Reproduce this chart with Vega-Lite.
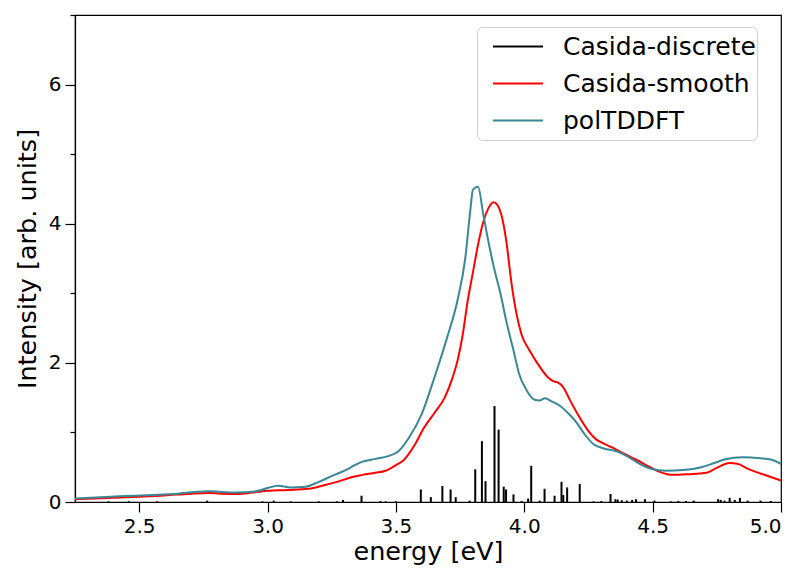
{
  "$schema": "https://vega.github.io/schema/vega-lite/v6.json",
  "width": 706,
  "height": 487,
  "autosize": {"type": "none"},
  "padding": {"left": 75, "top": 15, "right": 19, "bottom": 71},
  "background": "white",
  "config": {
    "font": "DejaVu Sans",
    "view": {"stroke": "black", "strokeWidth": 1.2},
    "axis": {
      "domainColor": "black", "domainWidth": 1.2, "tickColor": "black", "tickWidth": 1.2,
      "grid": false, "labelColor": "black", "titleColor": "black",
      "labelFont": "DejaVu Sans", "titleFont": "DejaVu Sans",
      "labelFontSize": 20, "titleFontSize": 25.5, "titleFontWeight": "normal",
      "tickSize": 10, "labelPadding": 4
    }
  },
  "datasets": {
    "sticks": [
      {"series": "Casida-discrete", "energy": 2.38, "intensity": 0.01},
      {"series": "Casida-discrete", "energy": 2.46, "intensity": 0.01},
      {"series": "Casida-discrete", "energy": 2.57, "intensity": 0.01},
      {"series": "Casida-discrete", "energy": 2.765, "intensity": 0.02},
      {"series": "Casida-discrete", "energy": 2.98, "intensity": 0.01},
      {"series": "Casida-discrete", "energy": 3.024, "intensity": 0.02},
      {"series": "Casida-discrete", "energy": 3.09, "intensity": 0.01},
      {"series": "Casida-discrete", "energy": 3.2, "intensity": 0.01},
      {"series": "Casida-discrete", "energy": 3.27, "intensity": 0.01},
      {"series": "Casida-discrete", "energy": 3.294, "intensity": 0.03},
      {"series": "Casida-discrete", "energy": 3.366, "intensity": 0.09},
      {"series": "Casida-discrete", "energy": 3.44, "intensity": 0.015},
      {"series": "Casida-discrete", "energy": 3.46, "intensity": 0.01},
      {"series": "Casida-discrete", "energy": 3.5, "intensity": 0.01},
      {"series": "Casida-discrete", "energy": 3.597, "intensity": 0.18},
      {"series": "Casida-discrete", "energy": 3.636, "intensity": 0.07},
      {"series": "Casida-discrete", "energy": 3.681, "intensity": 0.23},
      {"series": "Casida-discrete", "energy": 3.713, "intensity": 0.18},
      {"series": "Casida-discrete", "energy": 3.733, "intensity": 0.07},
      {"series": "Casida-discrete", "energy": 3.787, "intensity": 0.02},
      {"series": "Casida-discrete", "energy": 3.809, "intensity": 0.47},
      {"series": "Casida-discrete", "energy": 3.835, "intensity": 0.875},
      {"series": "Casida-discrete", "energy": 3.849, "intensity": 0.30},
      {"series": "Casida-discrete", "energy": 3.884, "intensity": 1.38},
      {"series": "Casida-discrete", "energy": 3.9, "intensity": 1.04},
      {"series": "Casida-discrete", "energy": 3.92, "intensity": 0.22},
      {"series": "Casida-discrete", "energy": 3.929, "intensity": 0.18},
      {"series": "Casida-discrete", "energy": 3.958, "intensity": 0.11},
      {"series": "Casida-discrete", "energy": 3.99, "intensity": 0.015},
      {"series": "Casida-discrete", "energy": 4.015, "intensity": 0.05},
      {"series": "Casida-discrete", "energy": 4.027, "intensity": 0.52},
      {"series": "Casida-discrete", "energy": 4.06, "intensity": 0.02},
      {"series": "Casida-discrete", "energy": 4.079, "intensity": 0.19},
      {"series": "Casida-discrete", "energy": 4.118, "intensity": 0.09},
      {"series": "Casida-discrete", "energy": 4.145, "intensity": 0.29},
      {"series": "Casida-discrete", "energy": 4.152, "intensity": 0.1},
      {"series": "Casida-discrete", "energy": 4.167, "intensity": 0.21},
      {"series": "Casida-discrete", "energy": 4.216, "intensity": 0.26},
      {"series": "Casida-discrete", "energy": 4.27, "intensity": 0.01},
      {"series": "Casida-discrete", "energy": 4.3, "intensity": 0.015},
      {"series": "Casida-discrete", "energy": 4.336, "intensity": 0.115},
      {"series": "Casida-discrete", "energy": 4.355, "intensity": 0.04},
      {"series": "Casida-discrete", "energy": 4.364, "intensity": 0.035},
      {"series": "Casida-discrete", "energy": 4.38, "intensity": 0.025},
      {"series": "Casida-discrete", "energy": 4.40, "intensity": 0.02},
      {"series": "Casida-discrete", "energy": 4.42, "intensity": 0.03},
      {"series": "Casida-discrete", "energy": 4.435, "intensity": 0.04},
      {"series": "Casida-discrete", "energy": 4.47, "intensity": 0.04},
      {"series": "Casida-discrete", "energy": 4.507, "intensity": 0.02},
      {"series": "Casida-discrete", "energy": 4.57, "intensity": 0.01},
      {"series": "Casida-discrete", "energy": 4.6, "intensity": 0.015},
      {"series": "Casida-discrete", "energy": 4.63, "intensity": 0.015},
      {"series": "Casida-discrete", "energy": 4.66, "intensity": 0.02},
      {"series": "Casida-discrete", "energy": 4.755, "intensity": 0.04},
      {"series": "Casida-discrete", "energy": 4.765, "intensity": 0.03},
      {"series": "Casida-discrete", "energy": 4.78, "intensity": 0.02},
      {"series": "Casida-discrete", "energy": 4.80, "intensity": 0.06},
      {"series": "Casida-discrete", "energy": 4.82, "intensity": 0.03},
      {"series": "Casida-discrete", "energy": 4.84, "intensity": 0.06},
      {"series": "Casida-discrete", "energy": 4.87, "intensity": 0.02},
      {"series": "Casida-discrete", "energy": 4.92, "intensity": 0.02},
      {"series": "Casida-discrete", "energy": 4.96, "intensity": 0.015}
    ],
    "curves": [
      {"series": "Casida-smooth", "energy": 2.25, "intensity": 0.04},
      {"series": "Casida-smooth", "energy": 2.4, "intensity": 0.06},
      {"series": "Casida-smooth", "energy": 2.5, "intensity": 0.075},
      {"series": "Casida-smooth", "energy": 2.6, "intensity": 0.095},
      {"series": "Casida-smooth", "energy": 2.7, "intensity": 0.12},
      {"series": "Casida-smooth", "energy": 2.77, "intensity": 0.13},
      {"series": "Casida-smooth", "energy": 2.82, "intensity": 0.12},
      {"series": "Casida-smooth", "energy": 2.88, "intensity": 0.115},
      {"series": "Casida-smooth", "energy": 2.95, "intensity": 0.14},
      {"series": "Casida-smooth", "energy": 3.0, "intensity": 0.16},
      {"series": "Casida-smooth", "energy": 3.08, "intensity": 0.172},
      {"series": "Casida-smooth", "energy": 3.16, "intensity": 0.19},
      {"series": "Casida-smooth", "energy": 3.22, "intensity": 0.24},
      {"series": "Casida-smooth", "energy": 3.28, "intensity": 0.3},
      {"series": "Casida-smooth", "energy": 3.33, "intensity": 0.36},
      {"series": "Casida-smooth", "energy": 3.37, "intensity": 0.39},
      {"series": "Casida-smooth", "energy": 3.42, "intensity": 0.42},
      {"series": "Casida-smooth", "energy": 3.46, "intensity": 0.45},
      {"series": "Casida-smooth", "energy": 3.50, "intensity": 0.53},
      {"series": "Casida-smooth", "energy": 3.53, "intensity": 0.6},
      {"series": "Casida-smooth", "energy": 3.57, "intensity": 0.8},
      {"series": "Casida-smooth", "energy": 3.61, "intensity": 1.07},
      {"series": "Casida-smooth", "energy": 3.65, "intensity": 1.28},
      {"series": "Casida-smooth", "energy": 3.69, "intensity": 1.5},
      {"series": "Casida-smooth", "energy": 3.72, "intensity": 1.78},
      {"series": "Casida-smooth", "energy": 3.74, "intensity": 2.03},
      {"series": "Casida-smooth", "energy": 3.76, "intensity": 2.4},
      {"series": "Casida-smooth", "energy": 3.78, "intensity": 2.9},
      {"series": "Casida-smooth", "energy": 3.80, "intensity": 3.3},
      {"series": "Casida-smooth", "energy": 3.82, "intensity": 3.7},
      {"series": "Casida-smooth", "energy": 3.84, "intensity": 4.02},
      {"series": "Casida-smooth", "energy": 3.86, "intensity": 4.22},
      {"series": "Casida-smooth", "energy": 3.88, "intensity": 4.31},
      {"series": "Casida-smooth", "energy": 3.895, "intensity": 4.27},
      {"series": "Casida-smooth", "energy": 3.91, "intensity": 4.14},
      {"series": "Casida-smooth", "energy": 3.93, "intensity": 3.75},
      {"series": "Casida-smooth", "energy": 3.95, "intensity": 3.15},
      {"series": "Casida-smooth", "energy": 3.97, "intensity": 2.7},
      {"series": "Casida-smooth", "energy": 3.99, "intensity": 2.4},
      {"series": "Casida-smooth", "energy": 4.02, "intensity": 2.18},
      {"series": "Casida-smooth", "energy": 4.05, "intensity": 2.0},
      {"series": "Casida-smooth", "energy": 4.09, "intensity": 1.8},
      {"series": "Casida-smooth", "energy": 4.11, "intensity": 1.74},
      {"series": "Casida-smooth", "energy": 4.13, "intensity": 1.72},
      {"series": "Casida-smooth", "energy": 4.15, "intensity": 1.66},
      {"series": "Casida-smooth", "energy": 4.18, "intensity": 1.45},
      {"series": "Casida-smooth", "energy": 4.21, "intensity": 1.25},
      {"series": "Casida-smooth", "energy": 4.25, "intensity": 1.02},
      {"series": "Casida-smooth", "energy": 4.28, "intensity": 0.9},
      {"series": "Casida-smooth", "energy": 4.31, "intensity": 0.84},
      {"series": "Casida-smooth", "energy": 4.35, "intensity": 0.77},
      {"series": "Casida-smooth", "energy": 4.39, "intensity": 0.69},
      {"series": "Casida-smooth", "energy": 4.44, "intensity": 0.6},
      {"series": "Casida-smooth", "energy": 4.49, "intensity": 0.5},
      {"series": "Casida-smooth", "energy": 4.53, "intensity": 0.43},
      {"series": "Casida-smooth", "energy": 4.58, "intensity": 0.39},
      {"series": "Casida-smooth", "energy": 4.64, "intensity": 0.4},
      {"series": "Casida-smooth", "energy": 4.71, "intensity": 0.42},
      {"series": "Casida-smooth", "energy": 4.75, "intensity": 0.49},
      {"series": "Casida-smooth", "energy": 4.80, "intensity": 0.56},
      {"series": "Casida-smooth", "energy": 4.83, "intensity": 0.55},
      {"series": "Casida-smooth", "energy": 4.87, "intensity": 0.48},
      {"series": "Casida-smooth", "energy": 4.92, "intensity": 0.41},
      {"series": "Casida-smooth", "energy": 4.96, "intensity": 0.36},
      {"series": "Casida-smooth", "energy": 5.0, "intensity": 0.31},
      {"series": "polTDDFT", "energy": 2.25, "intensity": 0.05},
      {"series": "polTDDFT", "energy": 2.35, "intensity": 0.07},
      {"series": "polTDDFT", "energy": 2.45, "intensity": 0.085},
      {"series": "polTDDFT", "energy": 2.55, "intensity": 0.1},
      {"series": "polTDDFT", "energy": 2.65, "intensity": 0.12},
      {"series": "polTDDFT", "energy": 2.72, "intensity": 0.145},
      {"series": "polTDDFT", "energy": 2.77, "intensity": 0.155},
      {"series": "polTDDFT", "energy": 2.82, "intensity": 0.145},
      {"series": "polTDDFT", "energy": 2.88, "intensity": 0.135},
      {"series": "polTDDFT", "energy": 2.95, "intensity": 0.15},
      {"series": "polTDDFT", "energy": 3.0, "intensity": 0.2},
      {"series": "polTDDFT", "energy": 3.04, "intensity": 0.235},
      {"series": "polTDDFT", "energy": 3.09, "intensity": 0.21},
      {"series": "polTDDFT", "energy": 3.14, "intensity": 0.215},
      {"series": "polTDDFT", "energy": 3.2, "intensity": 0.29},
      {"series": "polTDDFT", "energy": 3.26, "intensity": 0.39},
      {"series": "polTDDFT", "energy": 3.3, "intensity": 0.45},
      {"series": "polTDDFT", "energy": 3.34, "intensity": 0.53},
      {"series": "polTDDFT", "energy": 3.37, "intensity": 0.58},
      {"series": "polTDDFT", "energy": 3.42, "intensity": 0.62},
      {"series": "polTDDFT", "energy": 3.47, "intensity": 0.66},
      {"series": "polTDDFT", "energy": 3.51, "intensity": 0.73},
      {"series": "polTDDFT", "energy": 3.55, "intensity": 0.92},
      {"series": "polTDDFT", "energy": 3.6, "intensity": 1.26},
      {"series": "polTDDFT", "energy": 3.65, "intensity": 1.79},
      {"series": "polTDDFT", "energy": 3.70, "intensity": 2.37},
      {"series": "polTDDFT", "energy": 3.74, "intensity": 2.9},
      {"series": "polTDDFT", "energy": 3.77, "intensity": 3.5},
      {"series": "polTDDFT", "energy": 3.79, "intensity": 4.2},
      {"series": "polTDDFT", "energy": 3.80, "intensity": 4.49},
      {"series": "polTDDFT", "energy": 3.82, "intensity": 4.53},
      {"series": "polTDDFT", "energy": 3.84, "intensity": 4.14},
      {"series": "polTDDFT", "energy": 3.86, "intensity": 3.75},
      {"series": "polTDDFT", "energy": 3.88, "intensity": 3.4},
      {"series": "polTDDFT", "energy": 3.91, "intensity": 2.95},
      {"series": "polTDDFT", "energy": 3.93, "intensity": 2.6},
      {"series": "polTDDFT", "energy": 3.96, "intensity": 2.15},
      {"series": "polTDDFT", "energy": 3.98, "intensity": 1.84},
      {"series": "polTDDFT", "energy": 4.01, "intensity": 1.6},
      {"series": "polTDDFT", "energy": 4.04, "intensity": 1.47},
      {"series": "polTDDFT", "energy": 4.06, "intensity": 1.46},
      {"series": "polTDDFT", "energy": 4.08, "intensity": 1.49},
      {"series": "polTDDFT", "energy": 4.11, "intensity": 1.44},
      {"series": "polTDDFT", "energy": 4.14, "intensity": 1.38},
      {"series": "polTDDFT", "energy": 4.17, "intensity": 1.28},
      {"series": "polTDDFT", "energy": 4.20, "intensity": 1.16},
      {"series": "polTDDFT", "energy": 4.23, "intensity": 1.0},
      {"series": "polTDDFT", "energy": 4.27, "intensity": 0.83},
      {"series": "polTDDFT", "energy": 4.31, "intensity": 0.77},
      {"series": "polTDDFT", "energy": 4.36, "intensity": 0.73},
      {"series": "polTDDFT", "energy": 4.40, "intensity": 0.66},
      {"series": "polTDDFT", "energy": 4.43, "intensity": 0.59},
      {"series": "polTDDFT", "energy": 4.47, "intensity": 0.51},
      {"series": "polTDDFT", "energy": 4.50, "intensity": 0.47},
      {"series": "polTDDFT", "energy": 4.55, "intensity": 0.45},
      {"series": "polTDDFT", "energy": 4.62, "intensity": 0.46},
      {"series": "polTDDFT", "energy": 4.69, "intensity": 0.5},
      {"series": "polTDDFT", "energy": 4.74, "intensity": 0.56},
      {"series": "polTDDFT", "energy": 4.78, "intensity": 0.61},
      {"series": "polTDDFT", "energy": 4.85, "intensity": 0.645},
      {"series": "polTDDFT", "energy": 4.92, "intensity": 0.63},
      {"series": "polTDDFT", "energy": 4.96, "intensity": 0.61},
      {"series": "polTDDFT", "energy": 5.0, "intensity": 0.55}
    ]
  },
  "layer": [
    {
      "data": {"name": "sticks"},
      "mark": {"type": "rule", "strokeWidth": 2},
      "encoding": {
        "x": {"field": "energy", "type": "quantitative",
              "scale": {"domain": [2.25, 5.0], "nice": false, "zero": false},
              "axis": {"title": "energy [eV]", "values": [2.5, 3.0, 3.5, 4.0, 4.5, 5.0], "format": ".1f", "titlePadding": 3}},
        "y": {"field": "intensity", "type": "quantitative",
              "scale": {"domain": [0, 7], "nice": false},
              "axis": {"title": "Intensity [arb. units]", "values": [0, 2, 4, 6], "titlePadding": 8}},
        "y2": {"datum": 0},
        "color": {"field": "series", "type": "nominal",
                  "scale": {"domain": ["Casida-discrete", "Casida-smooth", "polTDDFT"], "range": ["#000000", "#ff0000", "#3a8796"]},
                  "legend": {"orient": "none", "legendX": 402, "legendY": 12, "title": null,
                             "symbolType": "stroke", "symbolSize": 2500, "symbolStrokeWidth": 2, "symbolOffset": 14,
                             "labelFontSize": 25, "labelFont": "DejaVu Sans", "labelColor": "black", "labelLimit": 400,
                             "labelOffset": 19, "rowPadding": 0, "clipHeight": 37, "padding": 1,
                             "fillColor": "white", "strokeColor": "#d0d0d0", "cornerRadius": 5}}
      }
    },
    {
      "data": {"name": "curves"},
      "mark": {"type": "line", "strokeWidth": 2, "interpolate": "monotone"},
      "encoding": {
        "x": {"field": "energy", "type": "quantitative"},
        "y": {"field": "intensity", "type": "quantitative", "axis": null},
        "color": {"field": "series", "type": "nominal"}
      }
    },
    {
      "data": {"name": "curves"},
      "mark": {"type": "line", "opacity": 0},
      "encoding": {
        "x": {"field": "energy", "type": "quantitative"},
        "y": {"field": "intensity", "type": "quantitative",
              "axis": {"orient": "left", "values": [1, 3, 5, 7], "labels": false, "tickSize": 5, "title": null, "domain": false}},
        "detail": {"field": "series"}
      }
    }
  ],
  "resolve": {"axis": {"y": "independent"}}
}
